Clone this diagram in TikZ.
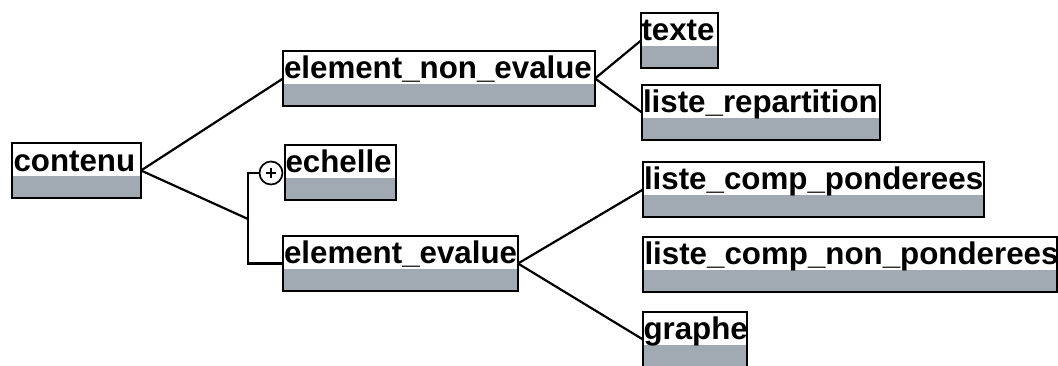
\documentclass[tikz,border=0pt]{standalone}
\usepackage{fontspec}
\setmainfont{Liberation Sans}
\definecolor{boxgray}{RGB}{161,170,178}
\begin{document}
\begin{tikzpicture}[x=1pt,y=-1pt,
  ubox/.style={draw=black, line width=2.6pt, rectangle, inner sep=0pt, outer sep=0pt,
    minimum height=55pt, anchor=north west, fill=white,
    path picture={\fill[boxgray] ([yshift=22pt]path picture bounding box.south west) rectangle (path picture bounding box.south east);}},
  lbl/.style={inner sep=0pt, outer sep=0pt, anchor=base west, font=\fontsize{31.3}{36}\selectfont\bfseries},
  conn/.style={line width=2.2pt, line cap=round}]
\useasboundingbox (0,0) rectangle (1058,365);
% boxes
\node[ubox, minimum width=129pt] (contenu) at (12,143) {};
\node[ubox, minimum width=312pt] (ene) at (283,51) {};
\node[ubox, minimum width=77pt] (texte) at (641,13) {};
\node[ubox, minimum width=238pt] (lrep) at (642,85) {};
\node[ubox, minimum width=111pt] (echelle) at (285,145) {};
\node[ubox, minimum width=235pt] (ee) at (283,236) {};
\node[ubox, minimum width=341pt] (lcp) at (643,162) {};
\node[ubox, minimum width=414pt] (lcnp) at (643,237) {};
\node[ubox, minimum width=104pt] (graphe) at (643,312) {};
% labels
\node[lbl] (contenu-t) at ([xshift=1.5pt,yshift=-28pt]contenu.north west) {contenu};
\node[lbl] (ene-t) at ([xshift=1pt,yshift=-27pt]ene.north west) {element\_non\_evalue};
\node[lbl] (texte-t) at ([xshift=0.5pt,yshift=-27pt]texte.north west) {texte};
\node[lbl] (lrep-t) at ([xshift=1pt,yshift=-27pt]lrep.north west) {liste\_repartition};
\node[lbl] (echelle-t) at ([xshift=0.5pt,yshift=-27pt]echelle.north west) {echelle};
\node[lbl] (ee-t) at ([xshift=1pt,yshift=-27pt]ee.north west) {element\_evalue};
\node[lbl] (lcp-t) at ([xshift=1pt,yshift=-27pt]lcp.north west) {liste\_comp\_ponderees};
\node[lbl] (lcnp-t) at ([xshift=1.5pt,yshift=-27pt]lcnp.north west) {liste\_comp\_non\_ponderees};
\node[lbl] (graphe-t) at ([xshift=0.5pt,yshift=-27pt]graphe.north west) {graphe};
% choice circle
\node[circle, draw=black, line width=1.7pt, minimum size=23pt, inner sep=0pt, fill=white] (plus) at (271,173) {};
\draw[line width=1.3pt] ([xshift=-5pt]plus.center) -- ([xshift=5pt]plus.center);
\draw[line width=1.3pt] ([yshift=-5pt]plus.center) -- ([yshift=5pt]plus.center);
\coordinate (bx) at (248,219);
% connectors
\draw[conn] (contenu.east) -- (ene.west);
\draw[conn] (contenu.east) -- (bx);
\draw[conn] (plus.west) -| (bx) |- (ee.west);
\draw[conn] (ene.east) -- (texte.west);
\draw[conn] (ene.east) -- (lrep.west);
\draw[conn] (ee.east) -- (lcp.west);
\draw[conn] (ee.east) -- (graphe.west);
\end{tikzpicture}
\end{document}
